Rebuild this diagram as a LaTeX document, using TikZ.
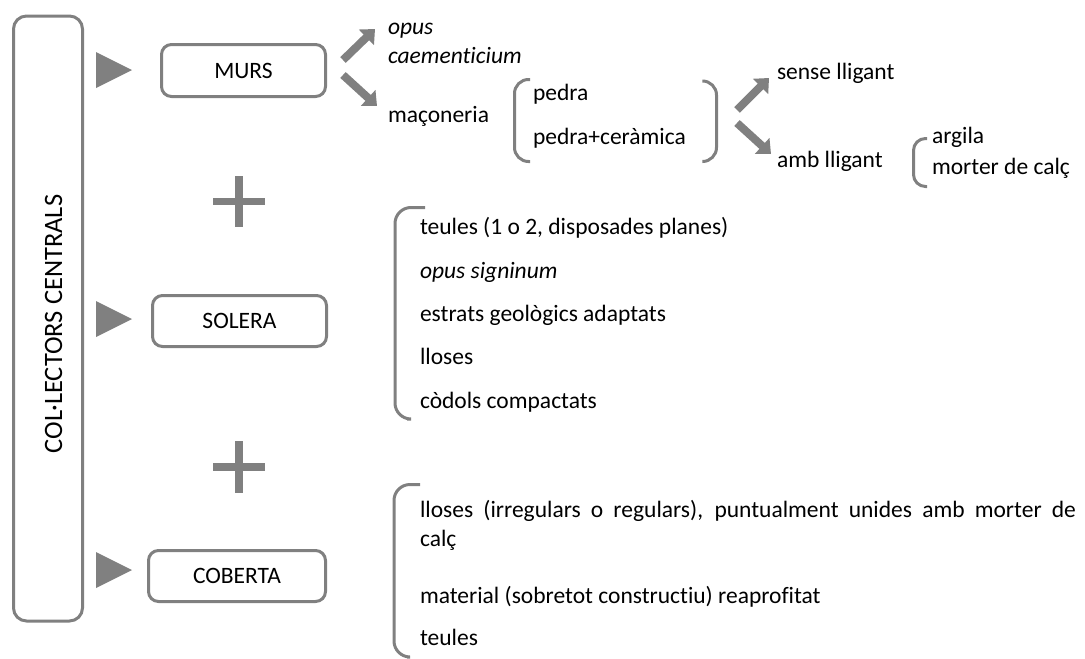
\documentclass[tikz,border=0pt]{standalone}
\usepackage{fontspec}
\setmainfont{Carlito}[Ligatures={NoCommon,NoRare,NoContextual}]
\usetikzlibrary{arrows.meta}
\definecolor{ln}{RGB}{128,128,128}
\begin{document}
\begin{tikzpicture}[x=1pt,y=-1pt,
  every node/.style={font=\fontsize{23.5}{28.7}\selectfont, inner sep=0pt, outer sep=0pt, text=black},
  catbox/.style={draw=ln, line width=3pt, rounded corners=10pt},
  bigbox/.style={draw=ln, line width=3pt, rounded corners=13pt},
  item/.style={anchor=base west},
  bigarrow/.style={draw=ln, line width=8pt, -{Triangle[length=12pt,width=21pt]}},
  brk/.style={draw=ln, line width=3pt, rounded corners=14pt},
  plusbar/.style={draw=ln, line width=7.5pt},
  tri/.style={fill=ln}
]
\useasboundingbox (0,0) rectangle (1085,659);

% central column
\node[bigbox, minimum width=69pt, minimum height=605pt] (col) at (48,318.5) {};
\node[rotate=90, anchor=base, font=\fontsize{26.5}{30}\selectfont] (coltxt) at (62,324) {COL·LECTORS CENTRALS};

% pointers
\fill[tri] (96,52) -- (132,70) -- (96,88) -- cycle;
\fill[tri] (96,301) -- (132,319) -- (96,337) -- cycle;
\fill[tri] (96,552) -- (132,570) -- (96,588) -- cycle;

% category boxes
\node[catbox, minimum width=164pt, minimum height=52pt] (murs) at (243.5,70.5) {MURS};
\node[catbox, minimum width=174pt, minimum height=51pt] (solera) at (239.5,321) {SOLERA};
\node[catbox, minimum width=177pt, minimum height=51pt] (coberta) at (237,576) {COBERTA};

% plus signs
\coordinate (p1c) at (239,201.5);
\draw[plusbar] ([xshift=-26pt]p1c) -- ([xshift=26pt]p1c);
\draw[plusbar] ([yshift=25.5pt]p1c) -- ([yshift=-25.5pt]p1c);
\coordinate (p2c) at (239,467);
\draw[plusbar] ([xshift=-26pt]p2c) -- ([xshift=26pt]p2c);
\draw[plusbar] ([yshift=26pt]p2c) -- ([yshift=-26pt]p2c);

% MURS branch
\node[item] (opus) at (388,34) {\itshape opus};
\node[item] (caem) at (388,63) {\itshape caementicium};
\node[item] (macon) at (388,122) {maçoneria};
\coordinate (a1s) at (343,60); \coordinate (a1e) at (375,29);
\coordinate (a2s) at (343,75); \coordinate (a2e) at (377,106);
\draw[bigarrow] (a1s) -- (a1e);
\draw[bigarrow] (a2s) -- (a2e);

\draw[brk] (530,79.5) -- (514.5,79.5) -- (514.5,161.5) -- (530,161.5);
\node[item] (pedra) at (533,100) {pedra};
\node[item] (pedrac) at (533,144) {pedra+ceràmica};
\draw[brk] (703,81) -- (716.5,81) -- (716.5,161.5) -- (703,161.5);

\coordinate (a3s) at (737,110); \coordinate (a3e) at (769,78);
\coordinate (a4s) at (737,123); \coordinate (a4e) at (771,154);
\draw[bigarrow] (a3s) -- (a3e);
\draw[bigarrow] (a4s) -- (a4e);
\node[item] (sense) at (777,79) {sense lligant};
\node[item] (amb) at (777,167) {amb lligant};

\draw[brk, rounded corners=12pt] (927,138.5) -- (913.5,138.5) -- (913.5,186.5) -- (927,186.5);
\node[item] (argila) at (932,143) {argila};
\node[item] (morter) at (932,174) {morter de calç};

% SOLERA list
\draw[brk, rounded corners=16pt] (425,207.5) -- (395,207.5) -- (395,419) -- (407,419);
\node[item] (s1) at (420,234) {teules (1 o 2, disposades planes)};
\node[item] (s2) at (420,278) {\itshape opus signinum};
\node[item] (s3) at (420,321) {estrats geològics adaptats};
\node[item] (s4) at (420,364) {lloses};
\node[item] (s5) at (420,408) {còdols compactats};

% COBERTA list
\draw[brk, rounded corners=16pt] (420,484.5) -- (394,484.5) -- (394,657) -- (407,657);
\node[item] (c1) at (420,517) {\makebox[656pt][s]{lloses (irregulars o regulars), puntualment unides amb morter de}};
\node[item] (c1b) at (420,546) {calç};
\node[item] (c2) at (420,603) {material (sobretot constructiu) reaprofitat};
\node[item] (c3) at (420,645) {teules};
\end{tikzpicture}
\end{document}
